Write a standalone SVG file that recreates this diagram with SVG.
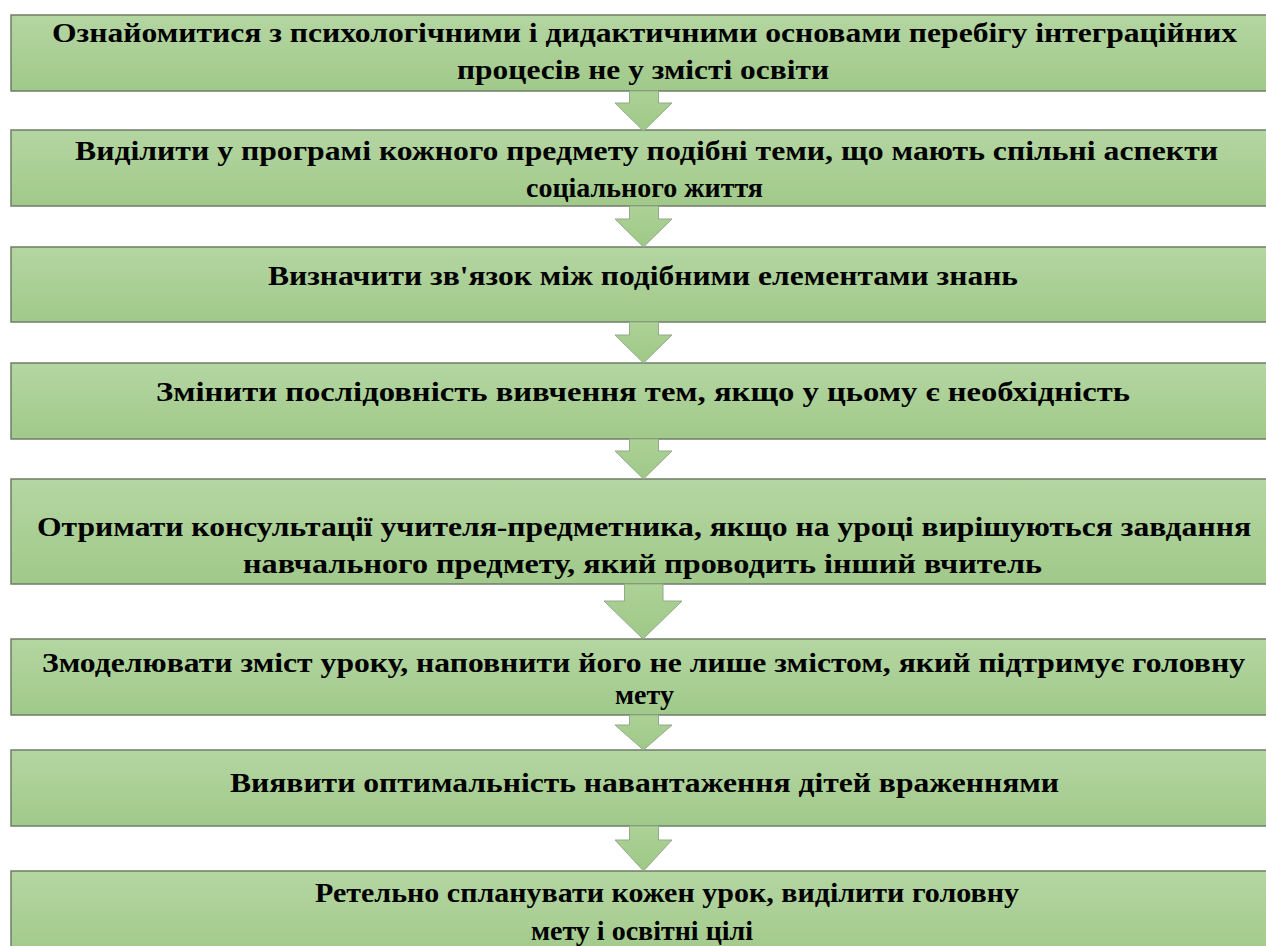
<svg xmlns="http://www.w3.org/2000/svg" width="1266" height="946" viewBox="0 0 1266 946">
<defs>
<linearGradient id="g" x1="0" y1="0" x2="0" y2="1">
<stop offset="0" stop-color="#b4d6a2"/>
<stop offset="1" stop-color="#a1c98a"/>
</linearGradient>
<linearGradient id="ga" x1="0" y1="0" x2="0" y2="1">
<stop offset="0" stop-color="#acd296"/>
<stop offset="1" stop-color="#9fc886"/>
</linearGradient>
</defs>
<style>
.box{fill:url(#g);stroke:#6f7d69;stroke-width:1.5}
.arr{fill:url(#ga);stroke:#93a88c;stroke-width:1}
text{font-family:"Liberation Serif","Times New Roman",serif;font-weight:bold;font-size:28px;fill:#000;text-anchor:middle}
</style>
<rect width="1266" height="946" fill="#fff"/>
<g id="n1"><rect class="box" x="11" y="15" width="1270" height="76"/>
<text x="644.5" y="42" textLength="1185" lengthAdjust="spacingAndGlyphs">Ознайомитися з психологічними і дидактичними основами перебігу інтеграційних</text>
<text x="643" y="79" textLength="372" lengthAdjust="spacingAndGlyphs">процесів не у змісті освіти</text></g>
<g id="n2"><rect class="box" x="11" y="130" width="1270" height="76"/>
<text x="646.5" y="160" textLength="1143" lengthAdjust="spacingAndGlyphs">Виділити у програмі кожного предмету подібні теми, що мають спільні аспекти</text>
<text x="644.5" y="197">соціального життя</text></g>
<g id="n3"><rect class="box" x="11" y="247" width="1270" height="75"/>
<text x="643" y="285" textLength="750" lengthAdjust="spacingAndGlyphs">Визначити зв'язок між подібними елементами знань</text></g>
<g id="n4"><rect class="box" x="11" y="363" width="1270" height="76"/>
<text x="643" y="401" textLength="974" lengthAdjust="spacingAndGlyphs">Змінити послідовність вивчення тем, якщо у цьому є необхідність</text></g>
<g id="n5"><rect class="box" x="11" y="479" width="1270" height="105"/>
<text x="644" y="536" textLength="1214" lengthAdjust="spacingAndGlyphs">Отримати консультації учителя-предметника, якщо на уроці вирішуються завдання</text>
<text x="642.5" y="573" textLength="799" lengthAdjust="spacingAndGlyphs">навчального предмету, який проводить інший вчитель</text></g>
<g id="n6"><rect class="box" x="11" y="639" width="1270" height="76"/>
<text x="643.5" y="672" textLength="1203" lengthAdjust="spacingAndGlyphs">Змоделювати зміст уроку, наповнити його не лише змістом, який підтримує головну</text>
<text x="644.5" y="704">мету</text></g>
<g id="n7"><rect class="box" x="11" y="750" width="1270" height="76"/>
<text x="644.5" y="792" textLength="829" lengthAdjust="spacingAndGlyphs">Виявити оптимальність навантаження дітей враженнями</text></g>
<g id="n8"><rect class="box" x="11" y="871" width="1270" height="90"/>
<text x="667" y="902" textLength="704" lengthAdjust="spacingAndGlyphs">Ретельно спланувати кожен урок, виділити головну</text>
<text x="642" y="940">мету і освітні цілі</text></g>
<g id="connectors">
<path class="arr" d="M629.5,91 H658.5 V103 H672 L643.5,131 L615,103 H629.5 Z"/>
<path class="arr" d="M629.5,206 H658.5 V219 H672 L643.5,247 L615,219 H629.5 Z"/>
<path class="arr" d="M629.5,322 H658.5 V335 H672 L643.5,363 L615,335 H629.5 Z"/>
<path class="arr" d="M629.5,439 H658.5 V451 H672 L643.5,479 L615,451 H629.5 Z"/>
<path class="arr" d="M624.5,584 H663 V601 H682 L643,639 L604,601 H624.5 Z"/>
<path class="arr" d="M629.5,715 H658.5 V725 H672 L643.5,750 L615,725 H629.5 Z"/>
<path class="arr" d="M629.5,826 H658.5 V840 H672 L643.5,871 L615,840 H629.5 Z"/>
</g>
</svg>
